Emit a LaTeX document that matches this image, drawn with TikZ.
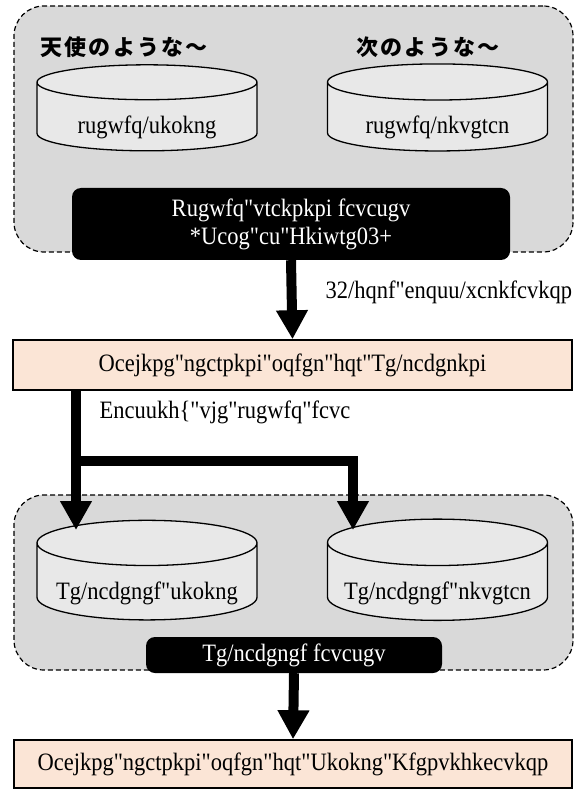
\documentclass[tikz,border=0pt]{standalone}
\usepackage{fontspec}
\setmainfont{Liberation Serif}[Ligatures=TeXOff, FakeStretch=0.9]
\newfontfamily\jpfont[LetterSpace=10]{Noto Sans CJK JP}
\usetikzlibrary{shapes.geometric,arrows.meta}
\definecolor{GroupFill}{HTML}{D9D9D9}
\definecolor{CylFill}{HTML}{E8E8E8}
\definecolor{ModelFill}{HTML}{FBE5D6}
\newcommand\boxfont{\fontsize{25}{28}\selectfont}
\tikzset{
  groupbox/.style={draw, line width=1.2pt, dash pattern=on 5pt off 3pt, fill=GroupFill, rounded corners=30pt},
  dbcyl/.style={cylinder, shape border rotate=90, aspect=0.24, draw, line width=1.3pt, fill=CylFill,
    minimum width=220pt, minimum height=86pt, text height=30pt, text depth=0pt, font=\boxfont},
  setbox/.style={fill=black, text=white, rounded corners=9pt, align=center, font=\boxfont},
  modelbox/.style={draw, line width=1.5pt, fill=ModelFill, font=\boxfont},
  heading/.style={anchor=west, font=\jpfont\bfseries\fontsize{22}{24}\selectfont},
  note/.style={anchor=west, font=\boxfont},
  flow/.style={line width=10pt, -{Triangle[width=30pt,length=29pt]}},
}

\begin{document}
\begin{tikzpicture}[x=1pt, y=-1pt]
  \useasboundingbox (0,0) rectangle (578,791);
  \node[groupbox, minimum width=559pt, minimum height=246pt] (pseudogroup) at (293.5,129) {};
  \node[heading] (simhead) at (37,47) {天使のような～};
  \node[heading] (lithead) at (353,47) {次のような～};
  \node[dbcyl] (pseudosim) at (147,119) {rugwfq/ukokng};
  \node[dbcyl] (pseudolit) at (437.5,119) {rugwfq/nkvgtcn};
  \node[setbox, minimum width=438pt, minimum height=72pt] (pseudoset) at (291,224)
    {Rugwfq"vtckpkpi fcvcugv\\{}*Ucog"cu"Hkiwtg03+};

  \node[modelbox, minimum width=559pt, minimum height=50pt] (relabelmodel) at (292.5,365)
    {Ocejkpg"ngctpkpi"oqfgn"hqt"Tg/ncdgnkpi};
  \node[note] (cvnote) at (322,292) {32/hqnf"enquu/xcnkfcvkqp};
  \node[note] (classnote) at (96,412) {Encuukh\{"vjg"rugwfq"fcvc};

  \node[groupbox, minimum width=559pt, minimum height=175pt] (relabelgroup) at (293.5,582.5) {};
  \node[dbcyl] (relabelsim) at (147,584.5) {Tg/ncdgngf"ukokng};
  \node[dbcyl] (relabellit) at (437.5,584.5) {Tg/ncdgngf"nkvgtcn};
  \node[setbox, minimum width=296pt, minimum height=36pt] (relabelset) at (294,655) {Tg/ncdgngf fcvcugv};

  \node[modelbox, minimum width=558pt, minimum height=48pt] (simmodel) at (293,764)
    {Ocejkpg"ngctpkpi"oqfgn"hqt"Ukokng"Kfgpvkhkecvkqp};

  \coordinate (split) at (76,461);
  \coordinate (lefttip) at (76,530);
  \coordinate (righttip) at (353,530);
  \draw[flow] (pseudoset.south) -- (relabelmodel.north);
  \draw[flow] (relabelmodel.south -| lefttip) -- (lefttip);
  \draw[flow] (split) -| (righttip);
  \draw[flow] (relabelset.south) -- (simmodel.north);
\end{tikzpicture}
\end{document}
